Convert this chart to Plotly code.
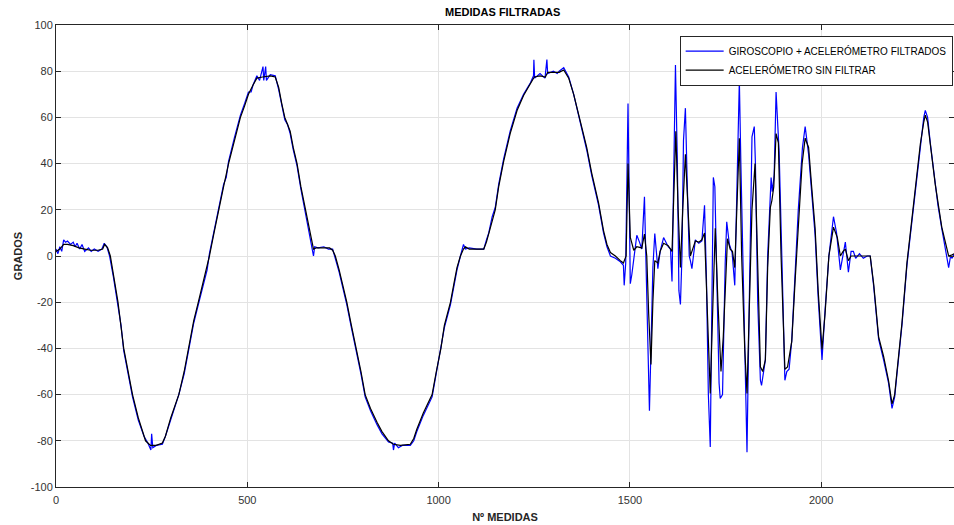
import plotly.graph_objects as go

# ---- Data ----
acc_x = [0, 10, 20, 30, 45, 60, 75, 90, 110, 122, 127, 135, 142, 150, 162, 177, 190, 200, 215, 234,
         247, 262, 278, 286, 300, 321, 335, 347, 360, 372, 387, 401, 413, 425, 438, 451, 466, 482, 493, 503,
         515, 525, 540, 560, 573, 582, 590, 598, 605, 612, 620, 630, 640, 652, 663, 673, 680, 700, 715, 723,
         730, 740, 750, 760, 772, 785, 797, 808, 822, 839, 852, 869, 882, 900, 926, 935, 943, 960, 983, 994,
         1006, 1015, 1031, 1040, 1048, 1057, 1065, 1070, 1080, 1100, 1118, 1125, 1131, 1148, 1157, 1170, 1187, 1205, 1222, 1240,
         1250, 1265, 1279, 1285, 1300, 1315, 1327, 1340, 1353, 1370, 1387, 1400, 1418, 1431, 1440, 1449, 1462, 1475, 1483, 1490,
         1495, 1501, 1510, 1518, 1531, 1538, 1544, 1549, 1555, 1560, 1565, 1573, 1579, 1588, 1600, 1610, 1615, 1620, 1626, 1632,
         1638, 1645, 1652, 1658, 1664, 1671, 1680, 1688, 1695, 1702, 1710, 1717, 1723, 1730, 1738, 1744, 1749, 1755, 1762, 1768,
         1774, 1780, 1786, 1792, 1800, 1806, 1812, 1819, 1827, 1834, 1841, 1847, 1854, 1860, 1867, 1871, 1876, 1882, 1888, 1895,
         1905, 1912, 1923, 1932, 1940, 1950, 1958, 1967, 1975, 1984, 1992, 2002, 2010, 2020, 2032, 2042, 2050, 2057, 2063, 2071,
         2078, 2084, 2100, 2115, 2128, 2137, 2150, 2163, 2176, 2185, 2192, 2198, 2211, 2224, 2233, 2246, 2259, 2268, 2272, 2278,
         2285, 2298, 2315, 2325, 2333, 2342, 2348]
acc_y = [2, 3, 5, 5, 4.5, 3.5, 3, 2.5, 2.5, 3, 5, 3.5, 0, -8, -20, -40, -51, -60, -70, -80,
         -82, -82, -81, -78, -70, -60, -50, -40, -28, -20, -10, 0, 10, 20, 30, 40, 50, 60, 65, 70,
         74, 77, 77.5, 78, 77.5, 73, 66, 60, 57, 54, 47, 40, 30, 20, 10, 3, 3.5, 3.5, 3.5, 2.5,
         0, -6, -13, -20, -30, -40, -50, -60, -66, -72, -76, -80, -81.5, -82, -81.5, -79, -75, -68, -60, -50,
         -40, -30, -20, -12, -5, 0, 3, 4, 3, 3, 3, 6, 10, 20, 30, 41, 53, 63, 69.5, 74.5,
         77.5, 78, 77.5, 79.5, 79.5, 79.5, 80.5, 77, 70, 59, 47, 36, 23, 11, 5, 1.5, 0, -2, -3, 0,
         40, 8, 2.5, 4, 3.5, 9.5, 0, -25, -47, -20, -2, -3, 2, 5.5, 4.5, 2, 30, 54, 20, -5,
         20, 44, 20, 0, 3, 6.5, 6, 7, 10, -25, -59.5, -20, 12, -20, -50, -35, -15, 7.5, 3, 2,
         -5, 25, 51, 0, -40, -59.5, -20, 20, 40, 0, -48, -50, -45, -5, 21, 24, 30, 53, 49, 0,
         -49, -48, -37, -10, 12, 40, 51, 47, 30, 12, -15, -40.5, -25, 0, 12.5, 8, 0, 2, 3, -2,
         0, 0, 0, 0, 0, -12, -35, -43.5, -54, -64, -60, -50, -29, -3, 10, 30, 48.5, 58, 61, 58,
         48.5, 31, 12.5, 5, 0, 0.5, 1]

gyro_x = [0, 5, 10, 15, 20, 25, 30, 38, 45, 50, 55, 62, 68, 75, 85, 92, 100, 110, 120, 126,
          133, 140, 150, 162, 170, 177, 190, 200, 215, 230, 240, 248, 250, 253, 262, 278, 286, 300, 321, 335,
          347, 360, 372, 387, 395, 401, 413, 425, 438, 445, 451, 466, 475, 482, 493, 503, 510, 515, 525, 532,
          541, 543, 548, 550, 560, 573, 582, 590, 598, 605, 612, 620, 630, 640, 652, 663, 670, 673, 676, 685,
          700, 712, 723, 730, 740, 750, 760, 772, 785, 797, 808, 822, 839, 852, 869, 880, 882, 885, 895, 905,
          926, 935, 943, 960, 983, 994, 1006, 1015, 1031, 1040, 1048, 1057, 1062, 1065, 1070, 1080, 1100, 1118, 1125, 1131,
          1140, 1148, 1157, 1170, 1187, 1205, 1222, 1240, 1248, 1249, 1251, 1265, 1278, 1283, 1285, 1300, 1310, 1315, 1327, 1340,
          1353, 1370, 1387, 1400, 1418, 1431, 1440, 1449, 1462, 1475, 1483, 1485, 1489, 1495, 1499, 1501, 1505, 1510, 1518, 1525,
          1531, 1538, 1541, 1545, 1551, 1555, 1560, 1565, 1573, 1579, 1588, 1600, 1606, 1610, 1614, 1619, 1624, 1628, 1632, 1636,
          1640, 1645, 1650, 1655, 1658, 1662, 1671, 1680, 1688, 1695, 1700, 1705, 1710, 1714, 1718, 1722, 1728, 1733, 1736, 1742,
          1749, 1753, 1760, 1767, 1774, 1780, 1786, 1790, 1797, 1803, 1806, 1810, 1815, 1819, 1825, 1828, 1834, 1841, 1844, 1849,
          1854, 1860, 1867, 1869, 1872, 1877, 1882, 1886, 1890, 1897, 1905, 1910, 1916, 1923, 1932, 1940, 1951, 1958, 1967, 1975,
          1984, 1992, 2002, 2010, 2020, 2032, 2040, 2050, 2057, 2063, 2071, 2078, 2084, 2090, 2100, 2110, 2120, 2128, 2137, 2150,
          2163, 2176, 2185, 2192, 2198, 2211, 2224, 2233, 2246, 2259, 2268, 2272, 2278, 2285, 2298, 2305, 2315, 2325, 2333, 2338,
          2342, 2348]
gyro_y = [3, 1, 4, 2, 7, 6, 6.5, 5, 6, 4, 5.5, 3, 5, 2, 3.5, 2, 3, 2, 3, 5.5,
          4, 0, -9, -21, -30, -41, -52, -61, -71, -78, -81, -84, -77, -83, -82, -81.5, -78, -71, -60, -51,
          -41, -29, -21, -11, -6, 1, 11, 21, 31, 34, 41, 51, 57, 61, 66, 71, 71, 74, 78, 76,
          82, 76, 82, 76, 78.5, 78, 72, 65, 59, 57, 53, 46, 39, 29, 19, 9, 4, 0, 4, 3.5,
          4, 3, 3, -1, -7, -14, -21, -31, -41, -51, -61, -67, -73, -77, -80.5, -81, -84, -81, -83, -82,
          -82, -80, -76, -69, -61, -51, -41, -31, -21, -13, -6, 0, 3, 5, 3, 3.5, 3, 3, 7, 10,
          17, 21, 31, 42, 54, 64, 70, 75, 78, 85, 77, 79, 77, 85, 79, 80, 79, 80, 81.5, 77.5,
          70, 58, 46, 35, 22, 10, 4, 0, -1, -2.5, -4, -12.7, -3, 66, 20, -12, -8, -2, 9, 6,
          3, 25.6, 5, -20, -67, -40, -5, 9.7, -5.5, 2, 8, 4, 3, -11, 30, 82.7, 40, -15, -21, 0,
          50, 64, 30, 0, -2, -5.5, 7, 5.5, 6.5, 22, -10, -60, -82.7, -30, 34, 30, -10, -55, -61.7, -60,
          -3, 14.8, 5, 1.5, -12.7, 30, 76, 40, -20, -70, -84.9, -40, 20, 51.6, 56, 40, -20, -53.8, -56, -50,
          -45, 0, 24, 34, 27.8, 35, 71, 55, 45, 0, -53.8, -50, -49, -36.5, -5, 20, 47, 56, 44, 28,
          9, -18, -45, -23.5, 0, 17, 10, -6, 0, 6, -7, 2, 2, -1, 1, -1, 0, 0, -13, -36,
          -45, -55, -66, -61, -51, -30, -4, 9, 29, 48, 60, 63, 60, 49, 30, 22, 12, 3, -5, 0,
          -1, 1]

x_ticks = [0, 500, 1000, 1500, 2000]
y_ticks = [-100, -80, -60, -40, -20, 0, 20, 40, 60, 80, 100]
y_tick_labels = ["-100", "-80", "-60", "-40", "-20", "0", "20", "40", "60", "80", "100"]

title_text = "MEDIDAS FILTRADAS"
x_title = "Nº MEDIDAS"
y_title = "GRADOS"
names = ["GIROSCOPIO + ACELERÓMETRO FILTRADOS", "ACELERÓMETRO SIN FILTRAR"]

FONT = "Liberation Sans, Arial, Helvetica, sans-serif"

fig = go.Figure()
fig.add_trace(go.Scatter(x=gyro_x, y=gyro_y, mode="lines", name=names[0],
                         line=dict(color="#0000ff", width=1.2)))
fig.add_trace(go.Scatter(x=acc_x, y=acc_y, mode="lines", name=names[1],
                         line=dict(color="#000000", width=1.2)))

axis_common = dict(
    showgrid=True, gridcolor="#e3e3e3", gridwidth=1,
    showline=True, linecolor="#262626", linewidth=1, mirror="ticks",
    ticks="inside", ticklen=5, tickcolor="#262626",
    tickfont=dict(family=FONT, size=11, color="#333333"),
    zeroline=False, automargin=False,
)

fig.update_layout(
    width=954, height=525,
    margin=dict(l=56, r=0, t=25, b=38, autoexpand=False),
    paper_bgcolor="white", plot_bgcolor="white",
    font=dict(family=FONT, color="#262626"),
    title=dict(text="<b>" + title_text + "</b>", x=0.527, xanchor="center",
               y=0.977, yanchor="middle", font=dict(family=FONT, size=11, color="#000000")),
    xaxis=dict(range=[0, 2347], tickvals=x_ticks, ticklabelstandoff=3,
               title=dict(text="<b>" + x_title + "</b>", standoff=8,
                          font=dict(family=FONT, size=11, color="#262626")),
               **axis_common),
    yaxis=dict(range=[-100, 100], tickvals=y_ticks, ticktext=y_tick_labels,
               title=dict(text="<b>" + y_title + "</b>", standoff=5,
                          font=dict(family=FONT, size=11, color="#262626")),
               **axis_common),
    legend=dict(x=0.9985, xanchor="right", y=0.977, yanchor="top",
                bgcolor="white", bordercolor="#262626", borderwidth=1,
                font=dict(family=FONT, size=10, color="#000000"),
                tracegroupgap=0, itemwidth=38),
    showlegend=True,
)

fig.write_html("out.html", config={"displayModeBar": False},
               post_script="document.body.style.margin='0';document.body.style.overflow='hidden';")
